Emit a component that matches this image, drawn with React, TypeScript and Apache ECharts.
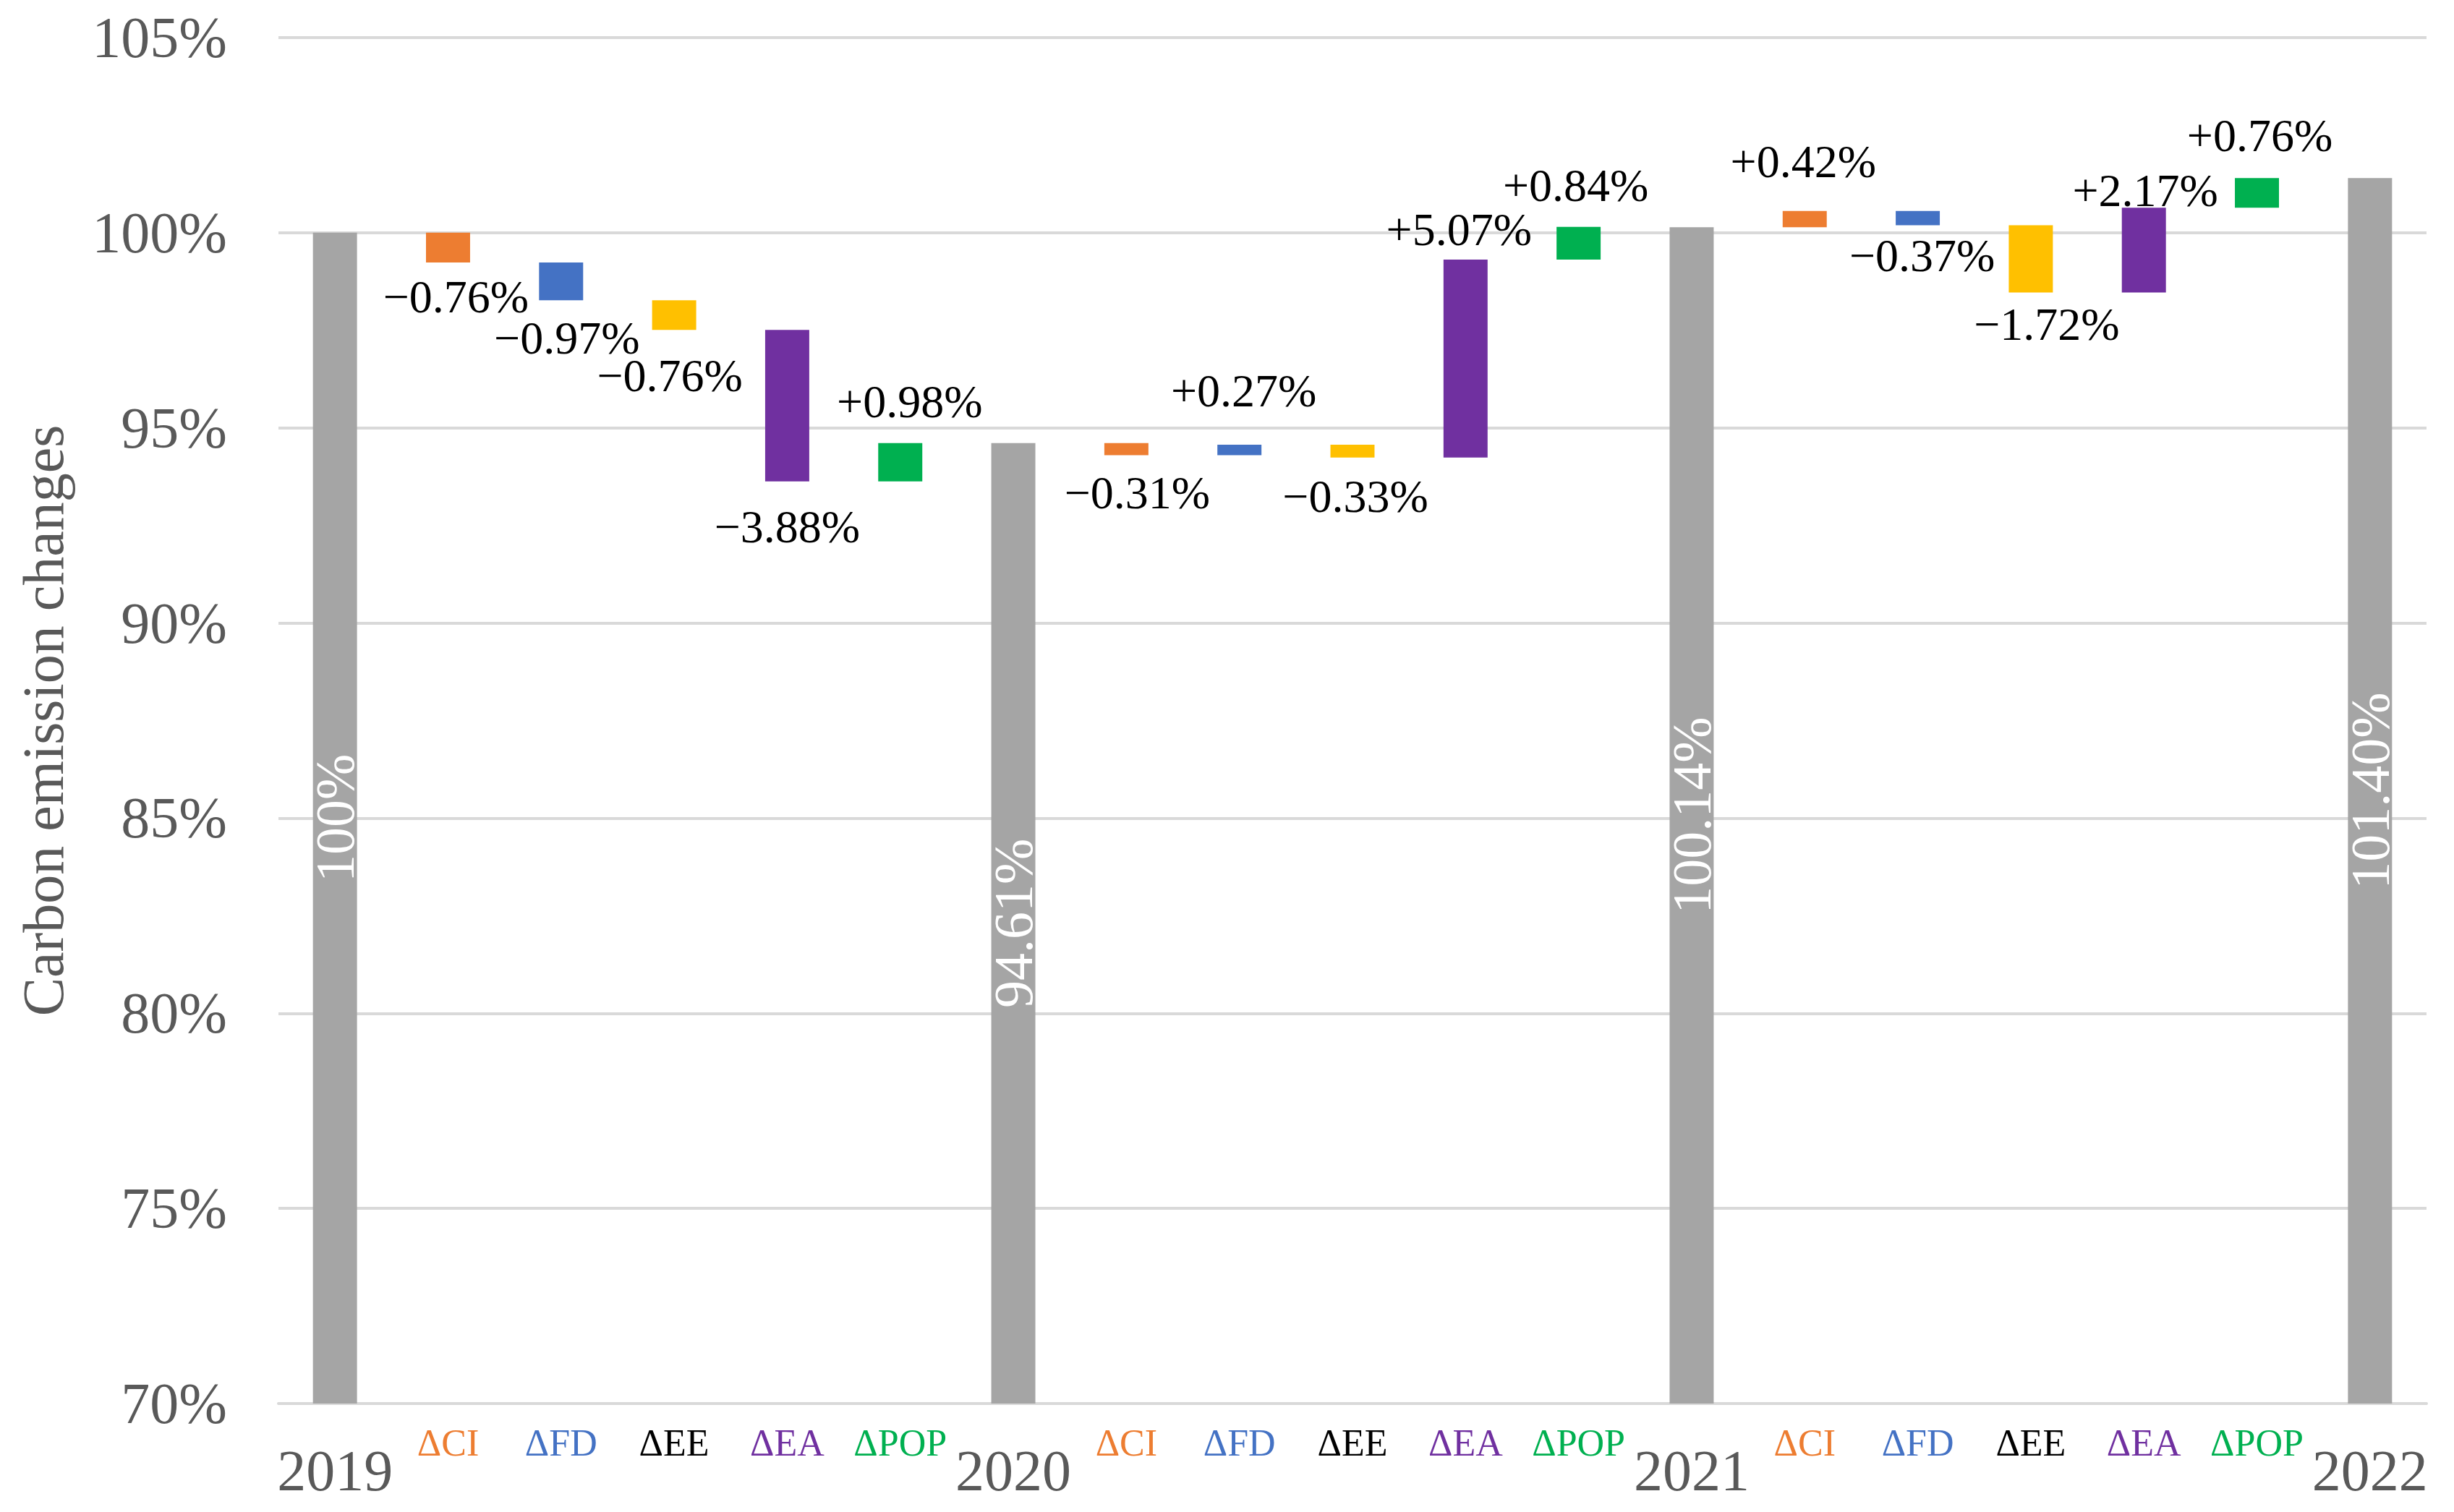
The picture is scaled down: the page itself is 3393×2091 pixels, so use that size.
import React, { useEffect, useRef } from 'react';
import * as echarts from 'echarts';

// ---- data ----
const categories = [
  '2019', 'ΔCI', 'ΔFD', 'ΔEE', 'ΔEA', 'ΔPOP',
  '2020', 'ΔCI', 'ΔFD', 'ΔEE', 'ΔEA', 'ΔPOP',
  '2021', 'ΔCI', 'ΔFD', 'ΔEE', 'ΔEA', 'ΔPOP',
  '2022',
];
const years = ['2019', '2020', '2021', '2022'];
const yearTotals = [100, 94.61, 100.14, 101.4];
const yearTotalLabels = ['100%', '94.61%', '100.14%', '101.40%'];
const deltas2019to2020 = [-0.76, -0.97, -0.76, -3.88, 0.98];
const deltas2020to2021 = [-0.31, 0.27, -0.33, 5.07, 0.84];
const deltas2021to2022 = [0.42, -0.37, -1.72, 2.17, 0.76];
const factorKeys = ['ΔCI', 'ΔFD', 'ΔEE', 'ΔEA', 'ΔPOP'];
const yMin = 70;
const yMax = 105;
const yStep = 5;

// ---- styles / layout (kept apart from the data) ----
const FONT = 'Liberation Serif';
const GREY_TEXT = '#595959';
const GRID_COLOR = '#D9D9D9';
const TOTAL_COLOR = '#A5A5A5';
const barColors: Record<string, string> = {
  'ΔCI': '#ED7D31',
  'ΔFD': '#4472C4',
  'ΔEE': '#FFC000',
  'ΔEA': '#7030A0',
  'ΔPOP': '#00B050',
};
const tickColors: Record<string, string> = {
  'ΔCI': '#ED7D31',
  'ΔFD': '#4472C4',
  'ΔEE': '#000000',
  'ΔEA': '#7030A0',
  'ΔPOP': '#00B050',
};
const richKey: Record<string, string> = {
  'ΔCI': 'ci', 'ΔFD': 'fd', 'ΔEE': 'ee', 'ΔEA': 'ea', 'ΔPOP': 'pop',
};
// small manual nudges of the change labels, [dx, dy] in px, per category index
const labelNudges: Record<number, [number, number]> = {
  1: [11, 0], 2: [8, 4], 3: [-6, 15], 4: [0, 15], 5: [13, -9],
  7: [15, 4], 8: [6, -26], 9: [4, 6], 10: [-9, 6], 11: [-4, -9],
  13: [-2, -20], 14: [6, -6], 15: [22, -4], 16: [2, 24], 17: [4, -11],
};

function fmtDelta(d: number) {
  return (d > 0 ? '+' : '\u2212') + Math.abs(d).toFixed(2) + '%';
}

function buildOption() {
  const deltaGroups = [deltas2019to2020, deltas2020to2021, deltas2021to2022];
  const baseData: number[] = [];
  const mainData: any[] = [];
  const labelTexts: string[] = [];
  let running = 0;
  let yearIdx = -1;
  let deltaIdx = 0;
  categories.forEach((cat, i) => {
    const yi = years.indexOf(cat);
    if (yi >= 0) {
      yearIdx = yi;
      deltaIdx = 0;
      running = yearTotals[yi];
      baseData.push(yMin);
      mainData.push({
        value: yearTotals[yi] - yMin,
        itemStyle: { color: TOTAL_COLOR },
        label: {
          show: true,
          position: 'inside',
          rotate: 90,
          color: '#ffffff',
          fontSize: 76,
          fontFamily: FONT,
        },
      });
      labelTexts.push(yearTotalLabels[yi]);
    } else {
      const d = deltaGroups[yearIdx][deltaIdx];
      const start = running;
      const end = running + d;
      running = end;
      deltaIdx++;
      baseData.push(Math.min(start, end));
      mainData.push({
        value: Math.abs(d),
        itemStyle: { color: barColors[cat] },
        label: {
          show: true,
          position: d > 0 ? 'top' : 'bottom',
          distance: 16,
          offset: labelNudges[i] || [0, 0],
          color: '#000000',
          fontSize: 64,
          fontFamily: FONT,
        },
      });
      labelTexts.push(fmtDelta(d));
    }
  });

  const rich: Record<string, any> = {
    year: { fontSize: 80, lineHeight: 130, color: GREY_TEXT, fontFamily: FONT },
  };
  factorKeys.forEach((k) => {
    rich[richKey[k]] = { fontSize: 52, lineHeight: 52, color: tickColors[k], fontFamily: FONT };
  });

  return {
    animation: false,
    backgroundColor: '#ffffff',
    textStyle: { fontFamily: FONT },
    grid: { left: 385, right: 38, top: 52, bottom: 150, containLabel: false },
    xAxis: {
      type: 'category',
      data: categories,
      axisTick: { show: false },
      axisLine: { show: true, lineStyle: { color: GRID_COLOR, width: 4 } },
      axisLabel: {
        interval: 0,
        margin: 28,
        hideOverlap: false,
        formatter: (v: string) => (years.includes(v) ? `{year|${v}}` : `{${richKey[v]}|${v}}`),
        rich,
      },
      splitLine: { show: false },
    },
    yAxis: {
      type: 'value',
      min: yMin,
      max: yMax,
      interval: yStep,
      name: 'Carbon emission changes',
      nameLocation: 'middle',
      nameGap: 285,
      nameTextStyle: { fontSize: 80, color: GREY_TEXT, fontFamily: FONT },
      axisLine: { show: false },
      axisTick: { show: false },
      axisLabel: {
        formatter: '{value}%',
        fontSize: 80,
        color: GREY_TEXT,
        margin: 71,
        fontFamily: FONT,
      },
      splitLine: { show: true, lineStyle: { color: GRID_COLOR, width: 4 } },
    },
    series: [
      {
        name: 'base',
        type: 'bar',
        stack: 'waterfall',
        silent: true,
        barWidth: '39%',
        itemStyle: { color: 'rgba(0,0,0,0)' },
        data: baseData,
      },
      {
        name: 'change',
        type: 'bar',
        stack: 'waterfall',
        barWidth: '39%',
        data: mainData,
        label: {
          show: true,
          formatter: (p: any) => labelTexts[p.dataIndex],
        },
      },
    ],
  };
}

export default function App() {
  const ref = useRef<HTMLDivElement>(null);
  useEffect(() => {
    const chart = echarts.init(ref.current as HTMLDivElement, null, { renderer: 'svg' });
    chart.setOption(buildOption() as any);
    return () => chart.dispose();
  }, []);
  return (
    <div
      ref={ref}
      style={{ position: 'fixed', left: 0, top: 0, width: 3393, height: 2091, background: '#ffffff' }}
    />
  );
}
